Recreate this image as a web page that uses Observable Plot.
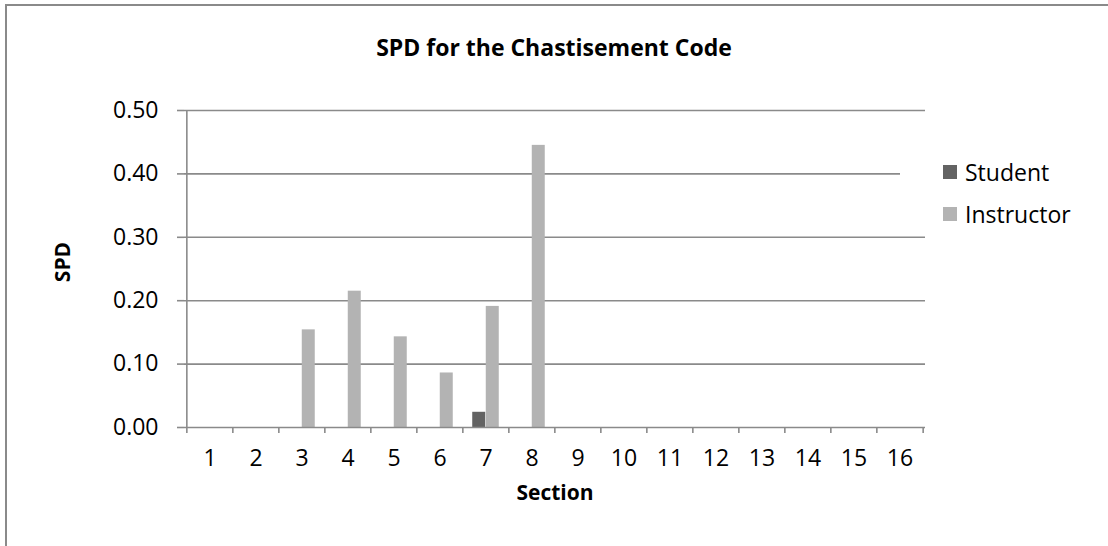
<!DOCTYPE html>
<html><head><meta charset="utf-8">
<script src="https://cdn.jsdelivr.net/npm/d3@7"></script>
<script src="https://cdn.jsdelivr.net/npm/@observablehq/plot@0.6"></script>
<style>
body{margin:0;background:#fff;font-family:"Open Sans",sans-serif;}
#wrap{position:relative;width:1108px;height:546px;overflow:hidden;background:#fff;}
#frame{position:absolute;left:5px;top:4px;width:1200px;height:700px;border-left:2px solid #8a8a8a;border-top:2px solid #8a8a8a;}
#chart{position:absolute;left:0;top:0;}
.t{position:absolute;color:#000;white-space:nowrap;}
#title{left:0;width:1108px;top:31px;text-align:center;font-weight:bold;font-size:23px;line-height:32px;}
#xlab{left:0;width:1110px;top:477px;text-align:center;font-weight:bold;font-size:21px;line-height:30px;}
#ylab{left:62px;top:262px;transform:translate(-50%,-50%) rotate(-90deg);font-weight:bold;font-size:21px;line-height:30px;}
#legend{position:absolute;left:900px;top:148px;width:200px;height:84px;background:#fff;}
.li{position:absolute;left:43px;font-size:23px;line-height:30px;}
.sw{position:absolute;left:0;top:8px;width:14px;height:14px;}
.li span{position:absolute;left:22px;top:0;}
</style></head>
<body>
<div id="wrap">
  <div id="frame"></div>
  <div id="chart"></div>
  <div id="title" class="t">SPD for the Chastisement Code</div>
  <div id="ylab" class="t">SPD</div>
  <div id="xlab" class="t">Section</div>
  <div id="legend"></div>
</div>
<script>
const sections = ["1","2","3","4","5","6","7","8","9","10","11","12","13","14","15","16"];
const seriesNames = ["Student","Instructor"];
const seriesColors = ["#636363","#b3b3b3"];
const student    = [0,0,0,0,0,0,0.024,0,0,0,0,0,0,0,0,0];
const instructor = [0,0,0.154,0.215,0.143,0.086,0.191,0.445,0,0,0,0,0,0,0,0];
const yTicks = [0,0.1,0.2,0.3,0.4,0.5];

const W = 1108, H = 546, ML = 184, MR = 183, MT = 110, MB = 119;
const step = (W - ML - MR) / sections.length;
const padIn = 0.708;
const bw = step * (1 - padIn);
const grid = "#8a8a8a";

const rowsS = sections.map((s,i)=>({section:s, value:student[i]})).filter(d=>d.value>0);
const rowsI = sections.map((s,i)=>({section:s, value:instructor[i]})).filter(d=>d.value>0);

const chart = Plot.plot({
  width: W, height: H,
  marginLeft: ML, marginRight: MR, marginTop: MT, marginBottom: MB,
  style: {fontFamily: "'Open Sans', sans-serif", fontSize: "23px", color: "#000", background: "transparent", overflow: "visible"},
  x: {type: "band", domain: sections, paddingInner: padIn, paddingOuter: padIn/2},
  y: {domain: [0, 0.5]},
  marks: [
    Plot.ruleY(yTicks.slice(1), {stroke: grid, strokeWidth: 1.6}),
    Plot.barY(rowsS, {x: "section", y: "value", fill: seriesColors[0], dx: -bw/2}),
    Plot.barY(rowsI, {x: "section", y: "value", fill: seriesColors[1], dx: bw/2}),
    Plot.ruleY([0], {stroke: grid, strokeWidth: 1.6}),
    Plot.ruleX(sections, {x: d=>d, y1: 0, y2: 0, insetBottom: -6, dx: -step/2, stroke: grid, strokeWidth: 1.6}),
    Plot.ruleX([sections[sections.length-1]], {x: d=>d, y1: 0, y2: 0, insetBottom: -6, dx: step/2, stroke: grid, strokeWidth: 1.6}),
    Plot.ruleX([sections[0]], {x: d=>d, y1: 0.5, y2: 0, dx: -step/2, stroke: grid, strokeWidth: 1.6}),
    Plot.axisY(yTicks, {tickSize: 7, tickPadding: 19, tickFormat: d3.format(".2f"), stroke: grid, strokeWidth: 1.6, fill: "#000", label: null}),
    Plot.axisX({tickSize: 0, tickPadding: 22, fill: "#000", label: null})
  ]
});
document.getElementById("chart").appendChild(chart);

const lg = document.getElementById("legend");
seriesNames.forEach((n,i)=>{
  const d = document.createElement("div");
  d.className = "li";
  d.style.top = (9 + i*42) + "px";
  d.innerHTML = `<div class="sw" style="background:${seriesColors[i]}"></div><span>${n}</span>`;
  lg.appendChild(d);
});
</script>
</body></html>
